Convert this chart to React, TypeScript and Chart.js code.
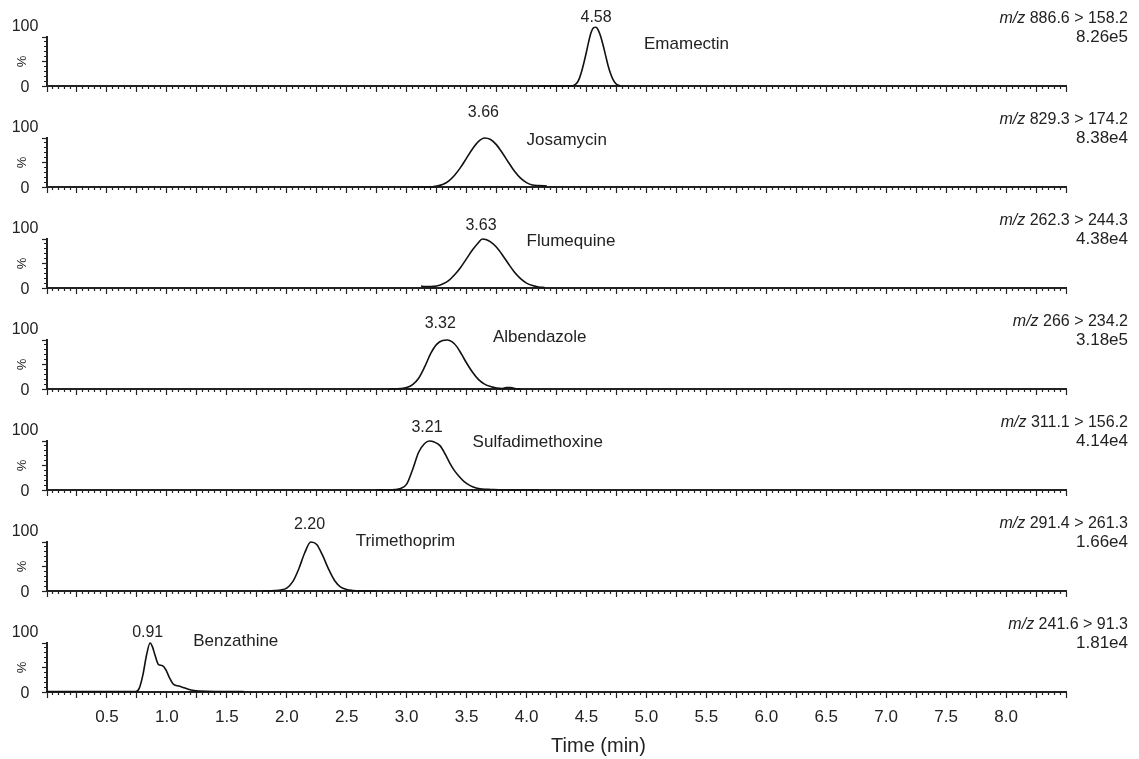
import React, { useEffect, useRef } from 'react';
import { Chart, registerables } from 'chart.js';

Chart.register(...registerables);

// ---------- data ----------
const compounds = ['Emamectin', 'Josamycin', 'Flumequine', 'Albendazole', 'Sulfadimethoxine', 'Trimethoprim', 'Benzathine'];
const retentionTimes = ['4.58', '3.66', '3.63', '3.32', '3.21', '2.20', '0.91'];
const transitions = ['886.6 > 158.2', '829.3 > 174.2', '262.3 > 244.3', '266 > 234.2', '311.1 > 156.2', '291.4 > 261.3', '241.6 > 91.3'];
const intensities = ['8.26e5', '8.38e4', '4.38e4', '3.18e5', '4.14e4', '1.66e4', '1.81e4'];

const xTickValues = [0.5, 1.0, 1.5, 2.0, 2.5, 3.0, 3.5, 4.0, 4.5, 5.0, 5.5, 6.0, 6.5, 7.0, 7.5, 8.0];
const yTickLabels = ['0', '100'];
const xTitle = 'Time (min)';

const emamectinTime = [4.10, 4.38, 4.40, 4.42, 4.44, 4.46, 4.48, 4.50, 4.52, 4.54, 4.56, 4.58, 4.60, 4.62, 4.64, 4.66, 4.68, 4.70, 4.72, 4.74, 4.76, 4.79];
const emamectinSignal = [0, 0, 2, 6, 15, 30, 49, 70, 92, 110, 119, 120, 113, 100, 82, 62, 42, 26, 14, 6, 2, 0];

const josamycinTime = [3.05, 3.20, 3.25, 3.30, 3.35, 3.40, 3.45, 3.50, 3.55, 3.60, 3.65, 3.70, 3.75, 3.80, 3.85, 3.90, 3.95, 4.00, 4.05, 4.10, 4.17];
const josamycinSignal = [0, 0, 2, 5, 12, 24, 40, 59, 78, 93, 100, 97, 86, 69, 50, 32, 18, 9, 4, 3, 2];

const flumequineTime = [3.12, 3.15, 3.20, 3.25, 3.30, 3.35, 3.40, 3.45, 3.50, 3.55, 3.60, 3.63, 3.66, 3.70, 3.75, 3.80, 3.85, 3.90, 3.95, 4.00, 4.05, 4.10, 4.15];
const flumequineSignal = [4, 3, 3, 4, 8, 15, 27, 42, 60, 78, 93, 100, 99, 94, 83, 67, 49, 32, 19, 10, 5, 2, 1];

const albendazoleTime = [2.85, 2.95, 3.00, 3.05, 3.10, 3.15, 3.20, 3.25, 3.30, 3.34, 3.38, 3.42, 3.46, 3.50, 3.55, 3.60, 3.65, 3.70, 3.75, 3.80, 3.83, 3.87, 3.90, 3.95];
const albendazoleSignal = [0, 1, 3, 9, 22, 45, 72, 91, 99, 100, 96, 86, 70, 53, 34, 19, 10, 5, 2, 1, 3, 3, 1, 0];

const sulfadimethoxineTime = [2.75, 2.90, 2.95, 3.00, 3.05, 3.10, 3.15, 3.19, 3.23, 3.28, 3.32, 3.36, 3.40, 3.44, 3.48, 3.53, 3.58, 3.63, 3.70, 3.80, 4.10];
const sulfadimethoxineSignal = [0, 1, 3, 12, 42, 77, 95, 100, 98, 90, 74, 55, 39, 27, 17, 9, 4, 2, 1, 0, 0];

const trimethoprimTime = [1.80, 1.90, 1.95, 2.00, 2.05, 2.10, 2.15, 2.20, 2.25, 2.30, 2.35, 2.40, 2.45, 2.50, 2.55, 2.60, 2.75];
const trimethoprimSignal = [0, 1, 2, 6, 19, 45, 78, 100, 95, 72, 44, 21, 8, 3, 1, 0, 0];

const benzathineTime = [0.00, 0.50, 0.74, 0.77, 0.80, 0.83, 0.86, 0.88, 0.90, 0.93, 0.96, 0.99, 1.02, 1.05, 1.10, 1.15, 1.20, 1.27, 1.40, 1.64];
const benzathineSignal = [1, 1, 1, 8, 35, 75, 100, 92, 76, 56, 54, 46, 30, 17, 12, 8, 4, 2, 1, 1];

const traceTimes = [emamectinTime, josamycinTime, flumequineTime, albendazoleTime, sulfadimethoxineTime, trimethoprimTime, benzathineTime];
const traceSignals = [emamectinSignal, josamycinSignal, flumequineSignal, albendazoleSignal, sulfadimethoxineSignal, trimethoprimSignal, benzathineSignal];

// annotation anchors (time, % level)
const peakLabelTime = [4.58, 3.64, 3.62, 3.28, 3.17, 2.19, 0.84];
const peakLabelLevel = [139, 151, 127, 133, 128, 135, 122];
const nameTime = [4.98, 4.0, 4.0, 3.72, 3.55, 2.575, 1.22];
const nameLevel = [85, 96, 96, 106, 97, 102, 103];

// ---------- style ----------
const FONT = "'Liberation Sans', Arial, Helvetica, sans-serif";
const INK = '#222';
const PANEL_STEP = 101;
const PAGE_W = 1139;
const EXTRA_TOP = 24;

const isMultiple = (v: number, step: number) => Math.abs(v / step - Math.round(v / step)) < 1e-6;

function makeTextPlugin(i: number) {
  return {
    id: 'panelText' + i,
    afterDraw(chart: any) {
      const { ctx, scales } = chart;
      const x = scales.x;
      const y = scales.y;
      const base = y.getPixelForValue(0);
      ctx.save();
      ctx.fillStyle = INK;
      ctx.textBaseline = 'middle';
      ctx.textAlign = 'center';
      ctx.font = `16px ${FONT}`;
      ctx.fillText(yTickLabels[1], 25, y.getPixelForValue(100) - 10);
      ctx.fillText(yTickLabels[0], 25, base + 2);

      ctx.save();
      ctx.translate(22, y.getPixelForValue(50));
      ctx.rotate(-Math.PI / 2);
      ctx.font = `13px ${FONT}`;
      ctx.fillText('%', 0, 0);
      ctx.restore();

      ctx.font = `16px ${FONT}`;
      ctx.fillText(retentionTimes[i], x.getPixelForValue(peakLabelTime[i]), y.getPixelForValue(peakLabelLevel[i]));

      ctx.textAlign = 'left';
      ctx.font = `17px ${FONT}`;
      ctx.fillText(compounds[i], x.getPixelForValue(nameTime[i]), y.getPixelForValue(nameLevel[i]));

      ctx.textAlign = 'right';
      const right = 1128;
      ctx.font = `16px ${FONT}`;
      const rest = ' ' + transitions[i];
      ctx.fillText(rest, right, base - 67);
      const w = ctx.measureText(rest).width;
      ctx.font = `17px ${FONT}`;
      ctx.fillText(intensities[i], right, base - 49);
      ctx.font = `italic 16px ${FONT}`;
      ctx.fillText('m/z', right - w, base - 67);

      if (i === compounds.length - 1) {
        ctx.textAlign = 'center';
        ctx.font = `20px ${FONT}`;
        ctx.fillText(xTitle, x.getPixelForValue(4.6), base + 54);
      }
      ctx.restore();
    },
  };
}

function Panel({ index }: { index: number }) {
  const ref = useRef<HTMLCanvasElement>(null);
  const last = index === compounds.length - 1;
  const height = (last ? 145 : PANEL_STEP) + EXTRA_TOP;
  const axisH = last ? 65 : 10;
  const padBottom = height - (78 + EXTRA_TOP) - axisH;

  useEffect(() => {
    if (!ref.current) return;
    const times = traceTimes[index];
    const sig = traceSignals[index];
    const chart = new Chart(ref.current, {
      type: 'line',
      data: {
        datasets: [
          {
            data: times.map((t, k) => ({ x: t, y: sig[k] })),
            borderColor: '#111',
            borderWidth: 1.6,
            pointRadius: 0,
            fill: false,
            cubicInterpolationMode: 'monotone',
            clip: false as any,
          },
        ],
      },
      options: {
        responsive: false,
        animation: false,
        devicePixelRatio: 1,
        layout: { padding: { top: 29 + EXTRA_TOP, right: PAGE_W - 1066, bottom: padBottom, left: 0 } },
        plugins: { legend: { display: false }, tooltip: { enabled: false } },
        scales: {
          x: {
            type: 'linear',
            min: 0,
            max: 8.5,
            position: 'bottom',
            afterFit: (s: any) => {
              s.height = axisH;
            },
            border: { display: true, width: 2, color: INK },
            grid: {
              display: true,
              drawOnChartArea: false,
              drawTicks: true,
              tickLength: 6,
              tickWidth: 1.2,
              tickColor: INK,
              tickBorderDash: (ctx: any) => {
                const v = ctx.tick ? ctx.tick.value : 0;
                return isMultiple(v, 0.25) ? [] : [2, 20];
              },
            } as any,
            ticks: {
              display: last,
              stepSize: 0.05,
              autoSkip: false,
              maxRotation: 0,
              padding: 9,
              color: INK,
              font: { family: FONT, size: 17 },
              callback: (v: any) => {
                const n = Number(v);
                return xTickValues.some((t) => Math.abs(t - n) < 1e-6) ? n.toFixed(1) : '';
              },
            },
          },
          y: {
            type: 'linear',
            min: 0,
            max: 100,
            position: 'left',
            afterFit: (s: any) => {
              s.width = 47;
            },
            border: { display: true, width: 2, color: INK },
            grid: {
              display: true,
              drawOnChartArea: false,
              drawTicks: true,
              tickLength: 5,
              tickWidth: 1.2,
              tickColor: INK,
              tickBorderDash: (ctx: any) => {
                const v = ctx.tick ? ctx.tick.value : 0;
                return isMultiple(v, 50) ? [] : [0, 2, 2, 20];
              },
            } as any,
            ticks: { display: false, stepSize: 10 },
          },
        },
      },
      plugins: [makeTextPlugin(index)],
    });
    return () => chart.destroy();
  }, [index]);

  return (
    <canvas
      ref={ref}
      width={PAGE_W}
      height={height}
      style={{ position: 'absolute', left: 0, top: 8 + index * PANEL_STEP - EXTRA_TOP, width: PAGE_W, height }}
    />
  );
}

export default function App() {
  return (
    <div style={{ position: 'fixed', left: 0, top: 0, width: PAGE_W, height: 759, overflow: 'hidden', background: '#fff' }}>
      {compounds.map((_, i) => (
        <Panel key={i} index={i} />
      ))}
    </div>
  );
}
